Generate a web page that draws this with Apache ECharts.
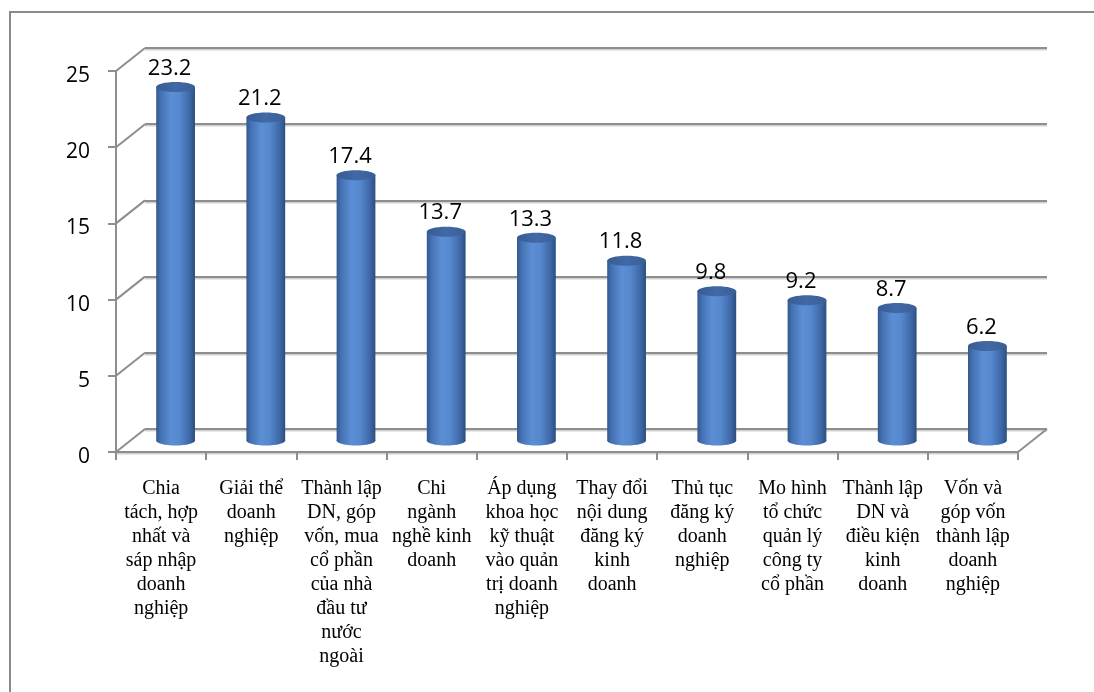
<!DOCTYPE html>
<html>
<head>
<meta charset="utf-8">
<script src="https://cdn.jsdelivr.net/npm/echarts@6/dist/echarts.min.js"></script>
<style>
  html, body { margin: 0; padding: 0; background: #ffffff; }
  #chart { width: 1094px; height: 692px; }
</style>
</head>
<body>
<div id="chart"></div>
<script>
// Category labels (explicit line breaks as they wrap under each column)
const categories = [
  'Chia\ntách, hợp\nnhất và\nsáp nhập\ndoanh\nnghiệp',
  'Giải thể\ndoanh\nnghiệp',
  'Thành lập\nDN, góp\nvốn, mua\ncổ phần\ncủa nhà\nđầu tư\nnước\nngoài',
  'Chi\nngành\nnghề kinh\ndoanh',
  'Áp dụng\nkhoa học\nkỹ thuật\nvào quản\ntrị doanh\nnghiệp',
  'Thay đổi\nnội dung\nđăng ký\nkinh\ndoanh',
  'Thủ tục\nđăng ký\ndoanh\nnghiệp',
  'Mo hình\ntổ chức\nquản lý\ncông ty\ncổ phần',
  'Thành lập\nDN và\nđiều kiện\nkinh\ndoanh',
  'Vốn và\ngóp vốn\nthành lập\ndoanh\nnghiệp'
];

// Column values
const values = [23.2, 21.2, 17.4, 13.7, 13.3, 11.8, 9.8, 9.2, 8.7, 6.2];

// Value-axis ticks
const yTicks = [0, 5, 10, 15, 20, 25];

// ---- styling / layout ----
const DEPTH_X = 29;      // horizontal shift of the back wall
const DEPTH_Y = -23;     // vertical shift of the back wall
const FRONT = { left: 116, top: 71, width: 902, height: 381 };
const LINE = '#8e8e8e';
const lineStyle = {
  color: LINE, width: 2,
  shadowColor: 'rgba(0,0,0,0.18)', shadowOffsetY: 1.5, shadowBlur: 0
};

const bodyGrad = new echarts.graphic.LinearGradient(0, 0, 1, 0, [
  { offset: 0.00, color: '#33588e' },
  { offset: 0.12, color: '#4472b3' },
  { offset: 0.38, color: '#5c8ed5' },
  { offset: 0.60, color: '#5688ce' },
  { offset: 0.85, color: '#3f69a8' },
  { offset: 1.00, color: '#2c4f80' }
]);
const topGrad = new echarts.graphic.LinearGradient(0, 0, 1, 0, [
  { offset: 0.0, color: '#375c93' },
  { offset: 0.5, color: '#4169a5' },
  { offset: 1.0, color: '#3a5f97' }
]);

const chart = echarts.init(document.getElementById('chart'), null, { renderer: 'canvas' });

chart.setOption({
  animation: false,
  backgroundColor: '#ffffff',
  graphic: [{
    type: 'rect',
    shape: { x: 10, y: 12, width: 1200, height: 800 },
    style: { fill: null, stroke: '#8a8a8a', lineWidth: 2 },
    silent: true
  }],
  grid: [
    // front plane: axes, ticks and labels
    { left: FRONT.left, top: FRONT.top, width: FRONT.width, height: FRONT.height },
    // back wall: horizontal gridlines
    { left: FRONT.left + DEPTH_X, top: FRONT.top + DEPTH_Y, width: FRONT.width, height: FRONT.height }
  ],
  xAxis: [
    {
      gridIndex: 0, type: 'category', data: categories, boundaryGap: true,
      axisLine: { show: true, lineStyle: lineStyle },
      axisTick: { show: true, length: 8, lineStyle: { color: LINE, width: 2 } },
      axisLabel: {
        interval: 0, margin: 25, color: '#000000',
        fontFamily: 'Liberation Serif', fontSize: 20, lineHeight: 24, align: 'center'
      },
      splitLine: { show: false }
    },
    {
      gridIndex: 1, type: 'category', data: categories,
      axisLine: { show: false }, axisTick: { show: false }, axisLabel: { show: false },
      splitLine: { show: false }
    }
  ],
  yAxis: [
    {
      gridIndex: 0, type: 'value', min: yTicks[0], max: yTicks[yTicks.length - 1], interval: 5,
      axisLine: { show: true, lineStyle: lineStyle },
      axisTick: { show: true, length: 8, lineStyle: { color: LINE, width: 2 } },
      axisLabel: {
        margin: 26, color: '#000000', fontFamily: 'Open Sans', fontSize: 21,
        verticalAlign: 'top', lineHeight: 10
      },
      splitLine: { show: false }
    },
    {
      gridIndex: 1, type: 'value', min: yTicks[0], max: yTicks[yTicks.length - 1], interval: 5,
      axisLine: { show: false }, axisTick: { show: false }, axisLabel: { show: false },
      splitLine: { show: true, lineStyle: lineStyle }
    }
  ],
  series: [
    {
      // side wall diagonals at each tick level and the right edge of the floor
      type: 'custom', xAxisIndex: 0, yAxisIndex: 0, z: 1, silent: true,
      data: yTicks.map(v => [0, v]),
      renderItem: function (params, api) {
        const cs = params.coordSys;
        const y = api.coord([0, api.value(1)])[1];
        const children = [{
          type: 'line',
          shape: { x1: cs.x, y1: y, x2: cs.x + DEPTH_X, y2: y + DEPTH_Y },
          style: { stroke: LINE, lineWidth: 2 }
        }];
        if (api.value(1) === 0) {
          children.push({
            type: 'line',
            shape: { x1: cs.x + cs.width, y1: y, x2: cs.x + cs.width + DEPTH_X, y2: y + DEPTH_Y },
            style: { stroke: LINE, lineWidth: 2 }
          });
        }
        return { type: 'group', children: children };
      }
    },
    {
      // cylinders, standing midway between the front plane and the back wall
      type: 'custom', xAxisIndex: 0, yAxisIndex: 0, z: 5, silent: true,
      data: values.map((v, i) => [i, v]),
      renderItem: function (params, api) {
        const top = api.coord([api.value(0), api.value(1)]);
        const base = api.coord([api.value(0), 0]);
        const cx = top[0] + DEPTH_X / 2;
        const ty = top[1] + DEPTH_Y / 2;
        const by = base[1] + DEPTH_Y / 2;
        const rx = api.size([1, 0])[0] * 0.215;
        const ry = 5;
        return {
          type: 'group',
          children: [
            { type: 'ellipse', shape: { cx: cx, cy: by, rx: rx, ry: ry }, style: { fill: bodyGrad } },
            { type: 'rect', shape: { x: cx - rx, y: ty, width: rx * 2, height: by - ty }, style: { fill: bodyGrad } },
            { type: 'ellipse', shape: { cx: cx, cy: ty, rx: rx, ry: ry }, style: { fill: topGrad } },
            {
              type: 'text',
              style: {
                text: String(api.value(1)), x: cx - 6, y: ty - 18.5,
                align: 'center', verticalAlign: 'middle',
                font: '22px "Open Sans"', fill: '#000000'
              }
            }
          ]
        };
      }
    }
  ]
});
</script>
</body>
</html>
